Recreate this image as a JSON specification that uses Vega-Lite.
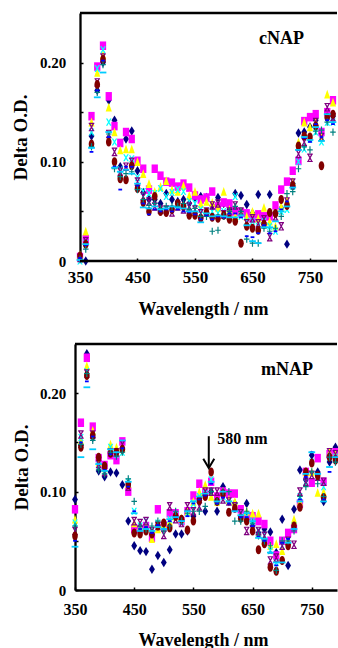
{
"$schema":"https://vega.github.io/schema/vega-lite/v6.json",
"background":"white",
"padding":{"left":11,"top":11,"right":0,"bottom":0},
"config":{"view":{"stroke":null},"axis":{"grid":false,"labelFont":"Liberation Serif","labelFontWeight":"bold","labelColor":"black","titleFont":"Liberation Serif","titleFontWeight":"bold","titleColor":"black","tickColor":"black","tickWidth":1.5,"tickSize":-3,"domainColor":"black","domainWidth":2.3,"labelFlush":false,"labelOverlap":false}},
"datasets":{
"c":[
{"s":1,"w":350,"v":0.002},{"s":1,"w":360,"v":0},{"s":1,"w":370,"v":0.126},{"s":1,"w":380,"v":0.172},{"s":1,"w":390,"v":0.2},{"s":1,"w":400,"v":0.162},{"s":1,"w":410,"v":0.142},{"s":1,"w":420,"v":0.095},{"s":1,"w":430,"v":0.123},{"s":1,"w":440,"v":0.131},{"s":1,"w":450,"v":0.091},{"s":1,"w":460,"v":0.069},{"s":1,"w":470,"v":0.062},{"s":1,"w":480,"v":0.062},{"s":1,"w":490,"v":0.058},{"s":1,"w":500,"v":0.068},{"s":1,"w":510,"v":0.062},{"s":1,"w":520,"v":0.06},{"s":1,"w":530,"v":0.062},{"s":1,"w":540,"v":0.058},{"s":1,"w":550,"v":0.064},{"s":1,"w":560,"v":0.065},{"s":1,"w":570,"v":0.064},{"s":1,"w":580,"v":0.056},{"s":1,"w":590,"v":0.064},{"s":1,"w":600,"v":0.058},{"s":1,"w":610,"v":0.052},{"s":1,"w":620,"v":0.068},{"s":1,"w":630,"v":0.066},{"s":1,"w":640,"v":0.057},{"s":1,"w":650,"v":0.048},{"s":1,"w":660,"v":0.067},{"s":1,"w":670,"v":0.042},{"s":1,"w":680,"v":0.067},{"s":1,"w":690,"v":0.048},{"s":1,"w":700,"v":0.053},{"s":1,"w":710,"v":0.017},{"s":1,"w":720,"v":0.078},{"s":1,"w":730,"v":0.129},{"s":1,"w":740,"v":0.13},{"s":1,"w":750,"v":0.135},{"s":1,"w":760,"v":0.142},{"s":1,"w":770,"v":0.128},{"s":1,"w":780,"v":0.15},{"s":1,"w":790,"v":0.146},
{"s":2,"w":350,"v":0.004},{"s":2,"w":360,"v":0.022},{"s":2,"w":370,"v":0.146},{"s":2,"w":380,"v":0.196},{"s":2,"w":390,"v":0.217},{"s":2,"w":400,"v":0.166},{"s":2,"w":410,"v":0.136},{"s":2,"w":420,"v":0.119},{"s":2,"w":430,"v":0.13},{"s":2,"w":440,"v":0.123},{"s":2,"w":450,"v":0.101},{"s":2,"w":460,"v":0.093},{"s":2,"w":470,"v":0.072},{"s":2,"w":480,"v":0.093},{"s":2,"w":490,"v":0.086},{"s":2,"w":500,"v":0.08},{"s":2,"w":510,"v":0.079},{"s":2,"w":520,"v":0.075},{"s":2,"w":530,"v":0.078},{"s":2,"w":540,"v":0.074},{"s":2,"w":550,"v":0.066},{"s":2,"w":560,"v":0.062},{"s":2,"w":570,"v":0.064},{"s":2,"w":580,"v":0.07},{"s":2,"w":590,"v":0.055},{"s":2,"w":600,"v":0.059},{"s":2,"w":610,"v":0.058},{"s":2,"w":620,"v":0.05},{"s":2,"w":630,"v":0.049},{"s":2,"w":640,"v":0.048},{"s":2,"w":650,"v":0.043},{"s":2,"w":660,"v":0.047},{"s":2,"w":670,"v":0.045},{"s":2,"w":680,"v":0.045},{"s":2,"w":690,"v":0.056},{"s":2,"w":700,"v":0.072},{"s":2,"w":710,"v":0.08},{"s":2,"w":720,"v":0.091},{"s":2,"w":730,"v":0.101},{"s":2,"w":740,"v":0.141},{"s":2,"w":750,"v":0.145},{"s":2,"w":760,"v":0.148},{"s":2,"w":770,"v":0.13},{"s":2,"w":780,"v":0.15},{"s":2,"w":790,"v":0.162},
{"s":3,"w":350,"v":0.006},{"s":3,"w":360,"v":0.03},{"s":3,"w":370,"v":0.14},{"s":3,"w":380,"v":0.19},{"s":3,"w":390,"v":0.208},{"s":3,"w":400,"v":0.155},{"s":3,"w":410,"v":0.13},{"s":3,"w":420,"v":0.112},{"s":3,"w":430,"v":0.113},{"s":3,"w":440,"v":0.113},{"s":3,"w":450,"v":0.1},{"s":3,"w":460,"v":0.088},{"s":3,"w":470,"v":0.078},{"s":3,"w":480,"v":0.07},{"s":3,"w":490,"v":0.075},{"s":3,"w":500,"v":0.081},{"s":3,"w":510,"v":0.072},{"s":3,"w":520,"v":0.07},{"s":3,"w":530,"v":0.076},{"s":3,"w":540,"v":0.066},{"s":3,"w":550,"v":0.07},{"s":3,"w":560,"v":0.058},{"s":3,"w":570,"v":0.06},{"s":3,"w":580,"v":0.059},{"s":3,"w":590,"v":0.054},{"s":3,"w":600,"v":0.07},{"s":3,"w":610,"v":0.052},{"s":3,"w":620,"v":0.045},{"s":3,"w":630,"v":0.05},{"s":3,"w":640,"v":0.045},{"s":3,"w":650,"v":0.05},{"s":3,"w":660,"v":0.043},{"s":3,"w":670,"v":0.054},{"s":3,"w":680,"v":0.04},{"s":3,"w":690,"v":0.035},{"s":3,"w":700,"v":0.055},{"s":3,"w":710,"v":0.062},{"s":3,"w":720,"v":0.08},{"s":3,"w":730,"v":0.12},{"s":3,"w":740,"v":0.14},{"s":3,"w":750,"v":0.135},{"s":3,"w":760,"v":0.14},{"s":3,"w":770,"v":0.125},{"s":3,"w":780,"v":0.168},{"s":3,"w":790,"v":0.16},
{"s":4,"w":350,"v":0},{"s":4,"w":360,"v":0.018},{"s":4,"w":370,"v":0.13},{"s":4,"w":380,"v":0.194},{"s":4,"w":390,"v":0.213},{"s":4,"w":400,"v":0.14},{"s":4,"w":410,"v":0.12},{"s":4,"w":420,"v":0.092},{"s":4,"w":430,"v":0.104},{"s":4,"w":440,"v":0.103},{"s":4,"w":450,"v":0.084},{"s":4,"w":460,"v":0.07},{"s":4,"w":470,"v":0.068},{"s":4,"w":480,"v":0.068},{"s":4,"w":490,"v":0.073},{"s":4,"w":500,"v":0.065},{"s":4,"w":510,"v":0.069},{"s":4,"w":520,"v":0.072},{"s":4,"w":530,"v":0.07},{"s":4,"w":540,"v":0.06},{"s":4,"w":550,"v":0.058},{"s":4,"w":560,"v":0.052},{"s":4,"w":570,"v":0.05},{"s":4,"w":580,"v":0.05},{"s":4,"w":590,"v":0.048},{"s":4,"w":600,"v":0.05},{"s":4,"w":610,"v":0.045},{"s":4,"w":620,"v":0.065},{"s":4,"w":630,"v":0.045},{"s":4,"w":640,"v":0.04},{"s":4,"w":650,"v":0.04},{"s":4,"w":660,"v":0.035},{"s":4,"w":670,"v":0.04},{"s":4,"w":680,"v":0.035},{"s":4,"w":690,"v":0.03},{"s":4,"w":700,"v":0.05},{"s":4,"w":710,"v":0.052},{"s":4,"w":720,"v":0.075},{"s":4,"w":730,"v":0.1},{"s":4,"w":740,"v":0.113},{"s":4,"w":750,"v":0.123},{"s":4,"w":760,"v":0.13},{"s":4,"w":770,"v":0.12},{"s":4,"w":780,"v":0.14},{"s":4,"w":790,"v":0.14},
{"s":5,"w":350,"v":0.003},{"s":5,"w":360,"v":0.02},{"s":5,"w":370,"v":0.135},{"s":5,"w":380,"v":0.18},{"s":5,"w":390,"v":0.205},{"s":5,"w":400,"v":0.128},{"s":5,"w":410,"v":0.11},{"s":5,"w":420,"v":0.09},{"s":5,"w":430,"v":0.095},{"s":5,"w":440,"v":0.1},{"s":5,"w":450,"v":0.08},{"s":5,"w":460,"v":0.065},{"s":5,"w":470,"v":0.06},{"s":5,"w":480,"v":0.055},{"s":5,"w":490,"v":0.052},{"s":5,"w":500,"v":0.052},{"s":5,"w":510,"v":0.049},{"s":5,"w":520,"v":0.055},{"s":5,"w":530,"v":0.052},{"s":5,"w":540,"v":0.055},{"s":5,"w":550,"v":0.052},{"s":5,"w":560,"v":0.048},{"s":5,"w":570,"v":0.05},{"s":5,"w":580,"v":0.056},{"s":5,"w":590,"v":0.058},{"s":5,"w":600,"v":0.047},{"s":5,"w":610,"v":0.05},{"s":5,"w":620,"v":0.056},{"s":5,"w":630,"v":0.05},{"s":5,"w":640,"v":0.038},{"s":5,"w":650,"v":0.043},{"s":5,"w":660,"v":0.038},{"s":5,"w":670,"v":0.042},{"s":5,"w":680,"v":0.024},{"s":5,"w":690,"v":0.045},{"s":5,"w":700,"v":0.035},{"s":5,"w":710,"v":0.06},{"s":5,"w":720,"v":0.079},{"s":5,"w":730,"v":0.108},{"s":5,"w":740,"v":0.12},{"s":5,"w":750,"v":0.104},{"s":5,"w":760,"v":0.14},{"s":5,"w":770,"v":0.125},{"s":5,"w":780,"v":0.155},{"s":5,"w":790,"v":0.145},
{"s":6,"w":350,"v":0.005},{"s":6,"w":360,"v":0.017},{"s":6,"w":370,"v":0.118},{"s":6,"w":380,"v":0.178},{"s":6,"w":390,"v":0.203},{"s":6,"w":400,"v":0.12},{"s":6,"w":410,"v":0.1},{"s":6,"w":420,"v":0.083},{"s":6,"w":430,"v":0.082},{"s":6,"w":440,"v":0.096},{"s":6,"w":450,"v":0.073},{"s":6,"w":460,"v":0.059},{"s":6,"w":470,"v":0.05},{"s":6,"w":480,"v":0.065},{"s":6,"w":490,"v":0.05},{"s":6,"w":500,"v":0.049},{"s":6,"w":510,"v":0.052},{"s":6,"w":520,"v":0.058},{"s":6,"w":530,"v":0.055},{"s":6,"w":540,"v":0.046},{"s":6,"w":550,"v":0.046},{"s":6,"w":560,"v":0.043},{"s":6,"w":570,"v":0.049},{"s":6,"w":580,"v":0.044},{"s":6,"w":590,"v":0.043},{"s":6,"w":600,"v":0.046},{"s":6,"w":610,"v":0.042},{"s":6,"w":620,"v":0.04},{"s":6,"w":630,"v":0.018},{"s":6,"w":640,"v":0.035},{"s":6,"w":650,"v":0.033},{"s":6,"w":660,"v":0.031},{"s":6,"w":670,"v":0.037},{"s":6,"w":680,"v":0.049},{"s":6,"w":690,"v":0.048},{"s":6,"w":700,"v":0.062},{"s":6,"w":710,"v":0.056},{"s":6,"w":720,"v":0.076},{"s":6,"w":730,"v":0.116},{"s":6,"w":740,"v":0.126},{"s":6,"w":750,"v":0.125},{"s":6,"w":760,"v":0.136},{"s":6,"w":770,"v":0.096},{"s":6,"w":780,"v":0.145},{"s":6,"w":790,"v":0.148},
{"s":7,"w":350,"v":0.002},{"s":7,"w":360,"v":0.012},{"s":7,"w":370,"v":0.115},{"s":7,"w":380,"v":0.17},{"s":7,"w":390,"v":0.198},{"s":7,"w":400,"v":0.128},{"s":7,"w":410,"v":0.093},{"s":7,"w":420,"v":0.085},{"s":7,"w":430,"v":0.088},{"s":7,"w":440,"v":0.09},{"s":7,"w":450,"v":0.072},{"s":7,"w":460,"v":0.062},{"s":7,"w":470,"v":0.056},{"s":7,"w":480,"v":0.058},{"s":7,"w":490,"v":0.053},{"s":7,"w":500,"v":0.055},{"s":7,"w":510,"v":0.055},{"s":7,"w":520,"v":0.055},{"s":7,"w":530,"v":0.058},{"s":7,"w":540,"v":0.052},{"s":7,"w":550,"v":0.053},{"s":7,"w":560,"v":0.045},{"s":7,"w":570,"v":0.045},{"s":7,"w":580,"v":0.03},{"s":7,"w":590,"v":0.031},{"s":7,"w":600,"v":0.045},{"s":7,"w":610,"v":0.05},{"s":7,"w":620,"v":0.055},{"s":7,"w":630,"v":0.05},{"s":7,"w":640,"v":0.022},{"s":7,"w":650,"v":0.018},{"s":7,"w":660,"v":0.018},{"s":7,"w":670,"v":0.033},{"s":7,"w":680,"v":0.03},{"s":7,"w":690,"v":0.033},{"s":7,"w":700,"v":0.045},{"s":7,"w":710,"v":0.068},{"s":7,"w":720,"v":0.07},{"s":7,"w":730,"v":0.093},{"s":7,"w":740,"v":0.115},{"s":7,"w":750,"v":0.112},{"s":7,"w":760,"v":0.131},{"s":7,"w":770,"v":0.132},{"s":7,"w":780,"v":0.14},{"s":7,"w":790,"v":0.13},
{"s":8,"w":350,"v":0.003},{"s":8,"w":360,"v":0.016},{"s":8,"w":370,"v":0.11},{"s":8,"w":380,"v":0.172},{"s":8,"w":390,"v":0.202},{"s":8,"w":400,"v":0.125},{"s":8,"w":410,"v":0.095},{"s":8,"w":420,"v":0.072},{"s":8,"w":430,"v":0.095},{"s":8,"w":440,"v":0.095},{"s":8,"w":450,"v":0.076},{"s":8,"w":460,"v":0.058},{"s":8,"w":470,"v":0.047},{"s":8,"w":480,"v":0.052},{"s":8,"w":490,"v":0.05},{"s":8,"w":500,"v":0.052},{"s":8,"w":510,"v":0.05},{"s":8,"w":520,"v":0.052},{"s":8,"w":530,"v":0.05},{"s":8,"w":540,"v":0.049},{"s":8,"w":550,"v":0.047},{"s":8,"w":560,"v":0.042},{"s":8,"w":570,"v":0.046},{"s":8,"w":580,"v":0.042},{"s":8,"w":590,"v":0.045},{"s":8,"w":600,"v":0.044},{"s":8,"w":610,"v":0.048},{"s":8,"w":620,"v":0.048},{"s":8,"w":630,"v":0.044},{"s":8,"w":640,"v":0.025},{"s":8,"w":650,"v":0.024},{"s":8,"w":660,"v":0.028},{"s":8,"w":670,"v":0.036},{"s":8,"w":680,"v":0.028},{"s":8,"w":690,"v":0.03},{"s":8,"w":700,"v":0.052},{"s":8,"w":710,"v":0.06},{"s":8,"w":720,"v":0.074},{"s":8,"w":730,"v":0.112},{"s":8,"w":740,"v":0.124},{"s":8,"w":750,"v":0.12},{"s":8,"w":760,"v":0.138},{"s":8,"w":770,"v":0.125},{"s":8,"w":780,"v":0.142},{"s":8,"w":790,"v":0.138},
{"s":9,"w":350,"v":0.001},{"s":9,"w":360,"v":0.017},{"s":9,"w":370,"v":0.114},{"s":9,"w":380,"v":0.165},{"s":9,"w":390,"v":0.19},{"s":9,"w":400,"v":0.13},{"s":9,"w":410,"v":0.094},{"s":9,"w":420,"v":0.09},{"s":9,"w":430,"v":0.092},{"s":9,"w":440,"v":0.088},{"s":9,"w":450,"v":0.078},{"s":9,"w":460,"v":0.054},{"s":9,"w":470,"v":0.053},{"s":9,"w":480,"v":0.055},{"s":9,"w":490,"v":0.052},{"s":9,"w":500,"v":0.053},{"s":9,"w":510,"v":0.055},{"s":9,"w":520,"v":0.054},{"s":9,"w":530,"v":0.053},{"s":9,"w":540,"v":0.05},{"s":9,"w":550,"v":0.05},{"s":9,"w":560,"v":0.039},{"s":9,"w":570,"v":0.048},{"s":9,"w":580,"v":0.045},{"s":9,"w":590,"v":0.046},{"s":9,"w":600,"v":0.045},{"s":9,"w":610,"v":0.044},{"s":9,"w":620,"v":0.044},{"s":9,"w":630,"v":0.046},{"s":9,"w":640,"v":0.036},{"s":9,"w":650,"v":0.02},{"s":9,"w":660,"v":0.018},{"s":9,"w":670,"v":0.034},{"s":9,"w":680,"v":0.034},{"s":9,"w":690,"v":0.04},{"s":9,"w":700,"v":0.05},{"s":9,"w":710,"v":0.055},{"s":9,"w":720,"v":0.074},{"s":9,"w":730,"v":0.112},{"s":9,"w":740,"v":0.125},{"s":9,"w":750,"v":0.122},{"s":9,"w":760,"v":0.135},{"s":9,"w":770,"v":0.121},{"s":9,"w":780,"v":0.148},{"s":9,"w":790,"v":0.14}
],
"m":[
{"s":1,"w":350,"v":0.092},{"s":1,"w":360,"v":0.147},{"s":1,"w":370,"v":0.24},{"s":1,"w":380,"v":0.155},{"s":1,"w":390,"v":0.121},{"s":1,"w":400,"v":0.115},{"s":1,"w":410,"v":0.12},{"s":1,"w":420,"v":0.119},{"s":1,"w":430,"v":0.107},{"s":1,"w":440,"v":0.07},{"s":1,"w":450,"v":0.045},{"s":1,"w":460,"v":0.04},{"s":1,"w":470,"v":0.039},{"s":1,"w":480,"v":0.021},{"s":1,"w":490,"v":0.035},{"s":1,"w":500,"v":0.028},{"s":1,"w":510,"v":0.041},{"s":1,"w":520,"v":0.057},{"s":1,"w":530,"v":0.057},{"s":1,"w":540,"v":0.06},{"s":1,"w":550,"v":0.075},{"s":1,"w":560,"v":0.093},{"s":1,"w":570,"v":0.08},{"s":1,"w":580,"v":0.1},{"s":1,"w":590,"v":0.08},{"s":1,"w":600,"v":0.105},{"s":1,"w":610,"v":0.09},{"s":1,"w":620,"v":0.088},{"s":1,"w":630,"v":0.075},{"s":1,"w":640,"v":0.088},{"s":1,"w":650,"v":0.065},{"s":1,"w":660,"v":0.058},{"s":1,"w":670,"v":0.062},{"s":1,"w":680,"v":0.059},{"s":1,"w":690,"v":0.038},{"s":1,"w":700,"v":0.072},{"s":1,"w":710,"v":0.025},{"s":1,"w":720,"v":0.082},{"s":1,"w":730,"v":0.122},{"s":1,"w":740,"v":0.112},{"s":1,"w":750,"v":0.137},{"s":1,"w":760,"v":0.12},{"s":1,"w":770,"v":0.09},{"s":1,"w":780,"v":0.13},{"s":1,"w":790,"v":0.145},
{"s":2,"w":350,"v":0.082},{"s":2,"w":360,"v":0.17},{"s":2,"w":370,"v":0.236},{"s":2,"w":380,"v":0.166},{"s":2,"w":390,"v":0.134},{"s":2,"w":400,"v":0.127},{"s":2,"w":410,"v":0.137},{"s":2,"w":420,"v":0.132},{"s":2,"w":430,"v":0.151},{"s":2,"w":440,"v":0.1},{"s":2,"w":450,"v":0.062},{"s":2,"w":460,"v":0.062},{"s":2,"w":470,"v":0.065},{"s":2,"w":480,"v":0.053},{"s":2,"w":490,"v":0.082},{"s":2,"w":500,"v":0.065},{"s":2,"w":510,"v":0.078},{"s":2,"w":520,"v":0.078},{"s":2,"w":530,"v":0.07},{"s":2,"w":540,"v":0.08},{"s":2,"w":550,"v":0.096},{"s":2,"w":560,"v":0.108},{"s":2,"w":570,"v":0.1},{"s":2,"w":580,"v":0.11},{"s":2,"w":590,"v":0.095},{"s":2,"w":600,"v":0.1},{"s":2,"w":610,"v":0.098},{"s":2,"w":620,"v":0.098},{"s":2,"w":630,"v":0.082},{"s":2,"w":640,"v":0.075},{"s":2,"w":650,"v":0.075},{"s":2,"w":660,"v":0.07},{"s":2,"w":670,"v":0.067},{"s":2,"w":680,"v":0.05},{"s":2,"w":690,"v":0.035},{"s":2,"w":700,"v":0.05},{"s":2,"w":710,"v":0.058},{"s":2,"w":720,"v":0.062},{"s":2,"w":730,"v":0.088},{"s":2,"w":740,"v":0.12},{"s":2,"w":750,"v":0.109},{"s":2,"w":760,"v":0.134},{"s":2,"w":770,"v":0.11},{"s":2,"w":780,"v":0.138},{"s":2,"w":790,"v":0.14},
{"s":3,"w":350,"v":0.072},{"s":3,"w":360,"v":0.152},{"s":3,"w":370,"v":0.228},{"s":3,"w":380,"v":0.162},{"s":3,"w":390,"v":0.13},{"s":3,"w":400,"v":0.124},{"s":3,"w":410,"v":0.148},{"s":3,"w":420,"v":0.145},{"s":3,"w":430,"v":0.145},{"s":3,"w":440,"v":0.108},{"s":3,"w":450,"v":0.068},{"s":3,"w":460,"v":0.065},{"s":3,"w":470,"v":0.064},{"s":3,"w":480,"v":0.052},{"s":3,"w":490,"v":0.062},{"s":3,"w":500,"v":0.067},{"s":3,"w":510,"v":0.07},{"s":3,"w":520,"v":0.075},{"s":3,"w":530,"v":0.073},{"s":3,"w":540,"v":0.08},{"s":3,"w":550,"v":0.09},{"s":3,"w":560,"v":0.1},{"s":3,"w":570,"v":0.107},{"s":3,"w":580,"v":0.095},{"s":3,"w":590,"v":0.09},{"s":3,"w":600,"v":0.1},{"s":3,"w":610,"v":0.092},{"s":3,"w":620,"v":0.09},{"s":3,"w":630,"v":0.075},{"s":3,"w":640,"v":0.08},{"s":3,"w":650,"v":0.078},{"s":3,"w":660,"v":0.078},{"s":3,"w":670,"v":0.05},{"s":3,"w":680,"v":0.045},{"s":3,"w":690,"v":0.047},{"s":3,"w":700,"v":0.04},{"s":3,"w":710,"v":0.05},{"s":3,"w":720,"v":0.072},{"s":3,"w":730,"v":0.09},{"s":3,"w":740,"v":0.12},{"s":3,"w":750,"v":0.12},{"s":3,"w":760,"v":0.099},{"s":3,"w":770,"v":0.1},{"s":3,"w":780,"v":0.14},{"s":3,"w":790,"v":0.138},
{"s":4,"w":350,"v":0.068},{"s":4,"w":360,"v":0.155},{"s":4,"w":370,"v":0.222},{"s":4,"w":380,"v":0.155},{"s":4,"w":390,"v":0.127},{"s":4,"w":400,"v":0.121},{"s":4,"w":410,"v":0.145},{"s":4,"w":420,"v":0.138},{"s":4,"w":430,"v":0.14},{"s":4,"w":440,"v":0.11},{"s":4,"w":450,"v":0.08},{"s":4,"w":460,"v":0.065},{"s":4,"w":470,"v":0.07},{"s":4,"w":480,"v":0.06},{"s":4,"w":490,"v":0.068},{"s":4,"w":500,"v":0.064},{"s":4,"w":510,"v":0.072},{"s":4,"w":520,"v":0.076},{"s":4,"w":530,"v":0.07},{"s":4,"w":540,"v":0.078},{"s":4,"w":550,"v":0.088},{"s":4,"w":560,"v":0.095},{"s":4,"w":570,"v":0.098},{"s":4,"w":580,"v":0.112},{"s":4,"w":590,"v":0.09},{"s":4,"w":600,"v":0.095},{"s":4,"w":610,"v":0.09},{"s":4,"w":620,"v":0.085},{"s":4,"w":630,"v":0.078},{"s":4,"w":640,"v":0.076},{"s":4,"w":650,"v":0.07},{"s":4,"w":660,"v":0.06},{"s":4,"w":670,"v":0.056},{"s":4,"w":680,"v":0.04},{"s":4,"w":690,"v":0.028},{"s":4,"w":700,"v":0.045},{"s":4,"w":710,"v":0.05},{"s":4,"w":720,"v":0.065},{"s":4,"w":730,"v":0.095},{"s":4,"w":740,"v":0.11},{"s":4,"w":750,"v":0.13},{"s":4,"w":760,"v":0.115},{"s":4,"w":770,"v":0.105},{"s":4,"w":780,"v":0.135},{"s":4,"w":790,"v":0.135},
{"s":5,"w":350,"v":0.06},{"s":5,"w":360,"v":0.158},{"s":5,"w":370,"v":0.22},{"s":5,"w":380,"v":0.158},{"s":5,"w":390,"v":0.128},{"s":5,"w":400,"v":0.12},{"s":5,"w":410,"v":0.14},{"s":5,"w":420,"v":0.14},{"s":5,"w":430,"v":0.148},{"s":5,"w":440,"v":0.105},{"s":5,"w":450,"v":0.07},{"s":5,"w":460,"v":0.068},{"s":5,"w":470,"v":0.07},{"s":5,"w":480,"v":0.06},{"s":5,"w":490,"v":0.065},{"s":5,"w":500,"v":0.056},{"s":5,"w":510,"v":0.085},{"s":5,"w":520,"v":0.072},{"s":5,"w":530,"v":0.068},{"s":5,"w":540,"v":0.085},{"s":5,"w":550,"v":0.08},{"s":5,"w":560,"v":0.085},{"s":5,"w":570,"v":0.1},{"s":5,"w":580,"v":0.1},{"s":5,"w":590,"v":0.1},{"s":5,"w":600,"v":0.092},{"s":5,"w":610,"v":0.09},{"s":5,"w":620,"v":0.085},{"s":5,"w":630,"v":0.078},{"s":5,"w":640,"v":0.06},{"s":5,"w":650,"v":0.062},{"s":5,"w":660,"v":0.06},{"s":5,"w":670,"v":0.055},{"s":5,"w":680,"v":0.03},{"s":5,"w":690,"v":0.033},{"s":5,"w":700,"v":0.045},{"s":5,"w":710,"v":0.05},{"s":5,"w":720,"v":0.046},{"s":5,"w":730,"v":0.1},{"s":5,"w":740,"v":0.11},{"s":5,"w":750,"v":0.117},{"s":5,"w":760,"v":0.115},{"s":5,"w":770,"v":0.11},{"s":5,"w":780,"v":0.14},{"s":5,"w":790,"v":0.138},
{"s":6,"w":350,"v":0.055},{"s":6,"w":360,"v":0.145},{"s":6,"w":370,"v":0.218},{"s":6,"w":380,"v":0.157},{"s":6,"w":390,"v":0.135},{"s":6,"w":400,"v":0.126},{"s":6,"w":410,"v":0.139},{"s":6,"w":420,"v":0.14},{"s":6,"w":430,"v":0.143},{"s":6,"w":440,"v":0.107},{"s":6,"w":450,"v":0.058},{"s":6,"w":460,"v":0.057},{"s":6,"w":470,"v":0.06},{"s":6,"w":480,"v":0.057},{"s":6,"w":490,"v":0.065},{"s":6,"w":500,"v":0.068},{"s":6,"w":510,"v":0.063},{"s":6,"w":520,"v":0.075},{"s":6,"w":530,"v":0.072},{"s":6,"w":540,"v":0.061},{"s":6,"w":550,"v":0.07},{"s":6,"w":560,"v":0.091},{"s":6,"w":570,"v":0.095},{"s":6,"w":580,"v":0.12},{"s":6,"w":590,"v":0.09},{"s":6,"w":600,"v":0.098},{"s":6,"w":610,"v":0.079},{"s":6,"w":620,"v":0.083},{"s":6,"w":630,"v":0.073},{"s":6,"w":640,"v":0.07},{"s":6,"w":650,"v":0.06},{"s":6,"w":660,"v":0.041},{"s":6,"w":670,"v":0.047},{"s":6,"w":680,"v":0.023},{"s":6,"w":690,"v":0.019},{"s":6,"w":700,"v":0.03},{"s":6,"w":710,"v":0.045},{"s":6,"w":720,"v":0.065},{"s":6,"w":730,"v":0.084},{"s":6,"w":740,"v":0.12},{"s":6,"w":750,"v":0.129},{"s":6,"w":760,"v":0.116},{"s":6,"w":770,"v":0.094},{"s":6,"w":780,"v":0.135},{"s":6,"w":790,"v":0.132},
{"s":7,"w":350,"v":0.065},{"s":7,"w":360,"v":0.148},{"s":7,"w":370,"v":0.22},{"s":7,"w":380,"v":0.152},{"s":7,"w":390,"v":0.122},{"s":7,"w":400,"v":0.118},{"s":7,"w":410,"v":0.14},{"s":7,"w":420,"v":0.136},{"s":7,"w":430,"v":0.14},{"s":7,"w":440,"v":0.113},{"s":7,"w":450,"v":0.09},{"s":7,"w":460,"v":0.065},{"s":7,"w":470,"v":0.062},{"s":7,"w":480,"v":0.065},{"s":7,"w":490,"v":0.07},{"s":7,"w":500,"v":0.06},{"s":7,"w":510,"v":0.065},{"s":7,"w":520,"v":0.08},{"s":7,"w":530,"v":0.07},{"s":7,"w":540,"v":0.078},{"s":7,"w":550,"v":0.08},{"s":7,"w":560,"v":0.08},{"s":7,"w":570,"v":0.085},{"s":7,"w":580,"v":0.1},{"s":7,"w":590,"v":0.09},{"s":7,"w":600,"v":0.1},{"s":7,"w":610,"v":0.1},{"s":7,"w":620,"v":0.07},{"s":7,"w":630,"v":0.07},{"s":7,"w":640,"v":0.08},{"s":7,"w":650,"v":0.068},{"s":7,"w":660,"v":0.055},{"s":7,"w":670,"v":0.05},{"s":7,"w":680,"v":0.045},{"s":7,"w":690,"v":0.02},{"s":7,"w":700,"v":0.05},{"s":7,"w":710,"v":0.05},{"s":7,"w":720,"v":0.06},{"s":7,"w":730,"v":0.095},{"s":7,"w":740,"v":0.105},{"s":7,"w":750,"v":0.12},{"s":7,"w":760,"v":0.108},{"s":7,"w":770,"v":0.095},{"s":7,"w":780,"v":0.135},{"s":7,"w":790,"v":0.13},
{"s":8,"w":350,"v":0.05},{"s":8,"w":360,"v":0.15},{"s":8,"w":370,"v":0.212},{"s":8,"w":380,"v":0.156},{"s":8,"w":390,"v":0.128},{"s":8,"w":400,"v":0.122},{"s":8,"w":410,"v":0.138},{"s":8,"w":420,"v":0.14},{"s":8,"w":430,"v":0.144},{"s":8,"w":440,"v":0.105},{"s":8,"w":450,"v":0.08},{"s":8,"w":460,"v":0.062},{"s":8,"w":470,"v":0.064},{"s":8,"w":480,"v":0.058},{"s":8,"w":490,"v":0.066},{"s":8,"w":500,"v":0.062},{"s":8,"w":510,"v":0.07},{"s":8,"w":520,"v":0.074},{"s":8,"w":530,"v":0.07},{"s":8,"w":540,"v":0.075},{"s":8,"w":550,"v":0.088},{"s":8,"w":560,"v":0.092},{"s":8,"w":570,"v":0.096},{"s":8,"w":580,"v":0.108},{"s":8,"w":590,"v":0.088},{"s":8,"w":600,"v":0.094},{"s":8,"w":610,"v":0.088},{"s":8,"w":620,"v":0.08},{"s":8,"w":630,"v":0.074},{"s":8,"w":640,"v":0.074},{"s":8,"w":650,"v":0.065},{"s":8,"w":660,"v":0.054},{"s":8,"w":670,"v":0.05},{"s":8,"w":680,"v":0.038},{"s":8,"w":690,"v":0.025},{"s":8,"w":700,"v":0.048},{"s":8,"w":710,"v":0.052},{"s":8,"w":720,"v":0.062},{"s":8,"w":730,"v":0.092},{"s":8,"w":740,"v":0.115},{"s":8,"w":750,"v":0.14},{"s":8,"w":760,"v":0.118},{"s":8,"w":770,"v":0.092},{"s":8,"w":780,"v":0.12},{"s":8,"w":790,"v":0.135},
{"s":9,"w":350,"v":0.044},{"s":9,"w":360,"v":0.135},{"s":9,"w":370,"v":0.206},{"s":9,"w":380,"v":0.143},{"s":9,"w":390,"v":0.128},{"s":9,"w":400,"v":0.121},{"s":9,"w":410,"v":0.143},{"s":9,"w":420,"v":0.14},{"s":9,"w":430,"v":0.152},{"s":9,"w":440,"v":0.11},{"s":9,"w":450,"v":0.078},{"s":9,"w":460,"v":0.06},{"s":9,"w":470,"v":0.062},{"s":9,"w":480,"v":0.06},{"s":9,"w":490,"v":0.064},{"s":9,"w":500,"v":0.062},{"s":9,"w":510,"v":0.072},{"s":9,"w":520,"v":0.074},{"s":9,"w":530,"v":0.07},{"s":9,"w":540,"v":0.08},{"s":9,"w":550,"v":0.09},{"s":9,"w":560,"v":0.095},{"s":9,"w":570,"v":0.098},{"s":9,"w":580,"v":0.11},{"s":9,"w":590,"v":0.09},{"s":9,"w":600,"v":0.1},{"s":9,"w":610,"v":0.09},{"s":9,"w":620,"v":0.08},{"s":9,"w":630,"v":0.076},{"s":9,"w":640,"v":0.078},{"s":9,"w":650,"v":0.07},{"s":9,"w":660,"v":0.053},{"s":9,"w":670,"v":0.052},{"s":9,"w":680,"v":0.038},{"s":9,"w":690,"v":0.028},{"s":9,"w":700,"v":0.028},{"s":9,"w":710,"v":0.048},{"s":9,"w":720,"v":0.062},{"s":9,"w":730,"v":0.09},{"s":9,"w":740,"v":0.118},{"s":9,"w":750,"v":0.14},{"s":9,"w":760,"v":0.118},{"s":9,"w":770,"v":0.09},{"s":9,"w":780,"v":0.125},{"s":9,"w":790,"v":0.135}
]
},
"bounds":"flush",
"spacing":83,
"vconcat":[
{
"width":262,"height":248,
"layer":[
{"data":{"name":"c"},
"mark":{"type":"point","filled":true,"opacity":1,"size":81},
"encoding":{
"x":{"field":"w","type":"quantitative","scale":{"domain":[341.3,797],"nice":false,"zero":false},
"axis":{"values":[350,400,450,500,550,600,650,700,750],"labelExpr":"(datum.value-350)%100==0 ? datum.label : ''","domain":false,"labelFontSize":17,"labelBaseline":"alphabetic","labelPadding":24.7,"title":"Wavelength / nm","titleFontSize":18,"titleX":128,"titleY":53,"titleBaseline":"alphabetic","titleAlign":"center"}},
"y":{"field":"v","type":"quantitative","scale":{"domain":[0,0.25],"nice":false},
"axis":{"values":[0,0.05,0.1,0.15,0.2],"labelExpr":"datum.value==0 ? '0' : (round(datum.value*100)%10==0 ? format(datum.value,'.2f') : '')","offset":-5,"labelFontSize":15,"labelPadding":17.3,"title":"Delta O.D.","titleFontSize":19,"titleX":-53.7,"titleBaseline":"alphabetic"}},
"color":{"field":"s","type":"nominal","legend":null,"scale":{"domain":[1,2,3,4,5,6,7,8,9],"range":["#000080","#FF00FF","#FFFF00","#00FFFF","#800080","#800000","#008080","#0000FF","#00CCFF"]}},
"shape":{"field":"s","type":"nominal","legend":null,"scale":{"domain":[1,2,3,4,5,6,7,8,9],"range":["M0,-1.05L0.65,0L0,1.05L-0.65,0Z","M-0.7,-0.95H0.7V0.95H-0.7Z","M0,-1L0.68,0.95H-0.68Z","M-0.62,-0.78L-0.3,-0.78L0.62,0.78L0.3,0.78Z M0.3,-0.78L0.62,-0.78L-0.3,0.78L-0.62,0.78Z","M-0.62,-0.85L-0.3,-0.85L0.62,0.85L0.3,0.85Z M0.3,-0.85L0.62,-0.85L-0.3,0.85L-0.62,0.85Z M-0.62,-0.95H0.62V-0.7H-0.62Z M-0.62,0.7H0.62V0.95H-0.62Z","M-0.62,0A0.62,1 0 1,1 0.62,0A0.62,1 0 1,1 -0.62,0Z","M-0.13,-0.8H0.13V-0.13H0.62V0.13H0.13V0.8H-0.13V0.13H-0.62V-0.13H-0.13Z","M-0.42,-0.2H0.42V0.2H-0.42Z","M-0.75,-0.2H0.75V0.2H-0.75Z"]}}
}},
{"data":{"values":[{}]},"mark":{"type":"text","text":"cNAP","font":"Liberation Serif","fontWeight":"bold","fontSize":18,"color":"black","align":"left","baseline":"alphabetic"},
"encoding":{"x":{"datum":661.3},"y":{"datum":0.219}}},
{"data":{"values":[{}]},"mark":{"type":"rule","color":"black","strokeWidth":2.3},
"encoding":{"x":{"datum":350},"x2":{"datum":797},"y":{"datum":0.25}}},
{"data":{"values":[{}]},"mark":{"type":"rule","color":"black","strokeWidth":2.3},
"encoding":{"x":{"datum":350},"x2":{"datum":797},"y":{"datum":0}}}
]
},
{
"width":262,"height":246,
"layer":[
{"data":{"name":"m"},
"mark":{"type":"point","filled":true,"opacity":1,"size":81},
"encoding":{
"x":{"field":"w","type":"quantitative","scale":{"domain":[350,792.6],"nice":false,"zero":false},
"axis":{"values":[350,400,450,500,550,600,650,700,750],"labelExpr":"(datum.value-350)%100==0 ? datum.label : ''","labelFontSize":16,"labelBaseline":"alphabetic","labelPadding":27.3,"title":"Wavelength / nm","titleFontSize":18,"titleX":128,"titleY":55,"titleBaseline":"alphabetic","titleAlign":"center"}},
"y":{"field":"v","type":"quantitative","scale":{"domain":[0,0.25],"nice":false},
"axis":{"values":[0,0.05,0.1,0.15,0.2],"labelExpr":"datum.value==0 ? '0' : (round(datum.value*100)%10==0 ? format(datum.value,'.2f') : '')","labelFontSize":15,"labelPadding":12.3,"title":"Delta O.D.","titleFontSize":19,"titleX":-47.7,"titleBaseline":"alphabetic"}},
"color":{"field":"s","type":"nominal","legend":null,"scale":{"domain":[1,2,3,4,5,6,7,8,9],"range":["#000080","#FF00FF","#FFFF00","#00FFFF","#800080","#800000","#008080","#0000FF","#00CCFF"]}},
"shape":{"field":"s","type":"nominal","legend":null,"scale":{"domain":[1,2,3,4,5,6,7,8,9],"range":["M0,-1.05L0.65,0L0,1.05L-0.65,0Z","M-0.7,-0.95H0.7V0.95H-0.7Z","M0,-1L0.68,0.95H-0.68Z","M-0.62,-0.78L-0.3,-0.78L0.62,0.78L0.3,0.78Z M0.3,-0.78L0.62,-0.78L-0.3,0.78L-0.62,0.78Z","M-0.62,-0.85L-0.3,-0.85L0.62,0.85L0.3,0.85Z M0.3,-0.85L0.62,-0.85L-0.3,0.85L-0.62,0.85Z M-0.62,-0.95H0.62V-0.7H-0.62Z M-0.62,0.7H0.62V0.95H-0.62Z","M-0.62,0A0.62,1 0 1,1 0.62,0A0.62,1 0 1,1 -0.62,0Z","M-0.13,-0.8H0.13V-0.13H0.62V0.13H0.13V0.8H-0.13V0.13H-0.62V-0.13H-0.13Z","M-0.42,-0.2H0.42V0.2H-0.42Z","M-0.75,-0.2H0.75V0.2H-0.75Z"]}}
}},
{"data":{"values":[{}]},"mark":{"type":"text","text":"mNAP","font":"Liberation Serif","fontWeight":"bold","fontSize":18,"color":"black","align":"left","baseline":"alphabetic"},
"encoding":{"x":{"datum":664.2},"y":{"datum":0.219}}},
{"data":{"values":[{}]},"mark":{"type":"text","text":"580 nm","font":"Liberation Serif","fontWeight":"bold","fontSize":16,"color":"black","align":"left","baseline":"alphabetic"},
"encoding":{"x":{"datum":590.4},"y":{"datum":0.148}}},
{"data":{"values":[{}]},"mark":{"type":"rule","color":"black","strokeWidth":2},
"encoding":{"x":{"datum":576},"y":{"datum":0.1563},"y2":{"datum":0.126}}},
{"data":{"values":[{}]},"mark":{"type":"point","shape":"M-1,-1.7L0,0L1,-1.7","filled":false,"color":"black","strokeWidth":2,"size":121,"opacity":1},
"encoding":{"x":{"datum":576},"y":{"datum":0.124}}},
{"data":{"values":[{}]},"mark":{"type":"rule","color":"black","strokeWidth":2.3},
"encoding":{"x":{"datum":350},"x2":{"datum":792.6},"y":{"datum":0.25}}}
]
}
]
}
